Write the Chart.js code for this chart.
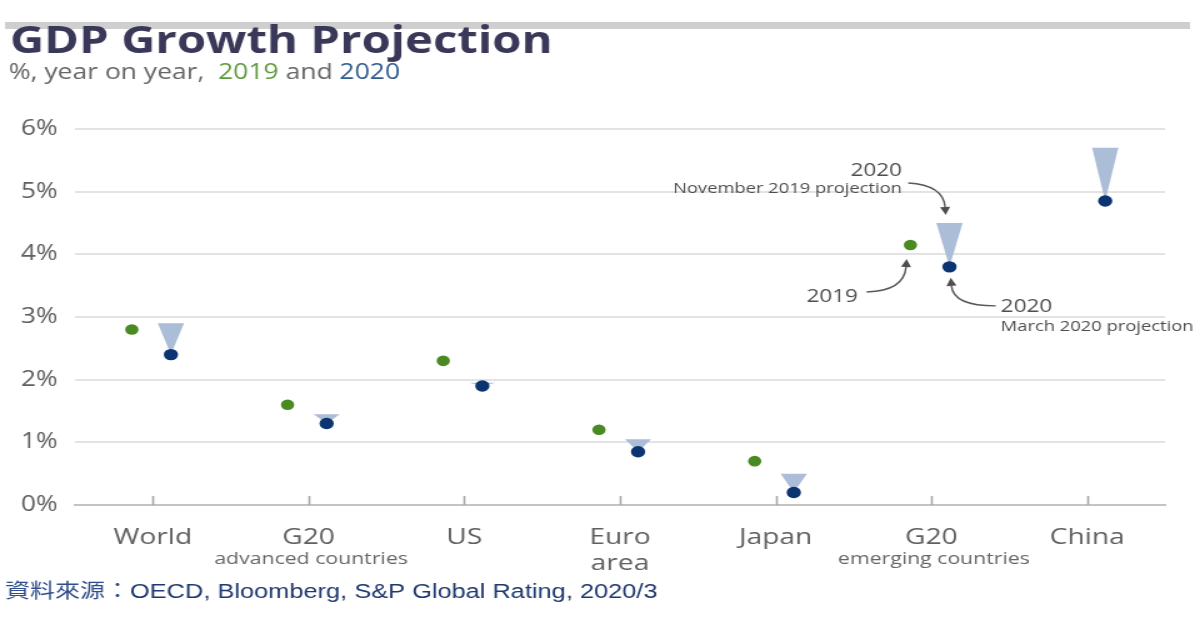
<!DOCTYPE html>
<html><head><meta charset="utf-8">
<script src="https://cdn.jsdelivr.net/npm/chart.js@4"></script>
<style>
html,body{margin:0;padding:0;background:#fff;overflow:hidden}
#c{display:block}
</style></head>
<body>
<canvas id="c" width="960" height="630" style="width:1200px;height:630px"></canvas>
<script>
// ---- data ----
const categories = [['World'], ['G20'], ['US'], ['Euro', 'area'], ['Japan'], ['G20'], ['China']];
const subLabels = ['', 'advanced countries', '', '', '', 'emerging countries', ''];
const growth2019 = [2.8, 1.6, 2.3, 1.2, 0.7, 4.15, 6.1];
const proj2020Mar = [2.4, 1.3, 1.9, 0.85, 0.2, 3.8, 4.85];
const proj2020Nov = [2.9, 1.45, 1.95, 1.05, 0.5, 4.5, 5.7];
const yTicks = [0, 1, 2, 3, 4, 5, 6];

// ---- layout constants ----
const G_OFF = -0.135, B_OFF = 0.116;
const pts = (vals, off) => vals.map((v, i) => ({x: i + off, y: v}));

function drawSegments(ctx, segs, x, y, font, targetW) {
  ctx.save();
  ctx.font = font;
  const w = segs.reduce((s, g) => s + ctx.measureText(g.t).width, 0);
  const k = targetW ? targetW / w : 1;
  ctx.translate(x, y); ctx.scale(k, 1);
  ctx.textAlign = 'left'; ctx.textBaseline = 'alphabetic';
  let cx = 0;
  segs.forEach(g => { ctx.fillStyle = g.c; ctx.fillText(g.t, cx, 0); cx += ctx.measureText(g.t).width; });
  ctx.restore();
}

function arrow(ctx, x0, y0, cx, cy, x1, y1) {
  const ang = Math.atan2(y1 - cy, x1 - cx);
  const L = 8, W = 4;
  const bx = x1 - Math.cos(ang) * L, by = y1 - Math.sin(ang) * L;
  ctx.beginPath(); ctx.moveTo(x0, y0); ctx.quadraticCurveTo(cx, cy, bx, by); ctx.stroke();
  ctx.beginPath();
  ctx.moveTo(x1, y1);
  ctx.lineTo(bx + Math.sin(ang) * W, by - Math.cos(ang) * W);
  ctx.lineTo(bx - Math.sin(ang) * W, by + Math.cos(ang) * W);
  ctx.closePath(); ctx.fill();
}

const markPlugin = {
  id: 'marks',
  beforeDraw(chart) {
    const ctx = chart.ctx;
    ctx.save();
    ctx.fillStyle = '#fff'; ctx.fillRect(0, 0, chart.width, chart.height);
    ctx.fillStyle = '#cfcfcf'; ctx.fillRect(4, 22, 948, 7);
    ctx.restore();
  },
  beforeDatasetsDraw(chart) {
    const {ctx, chartArea, scales: {x, y}} = chart;
    ctx.save();
    // tick marks
    ctx.strokeStyle = '#a8a8a8'; ctx.lineWidth = 1.6;
    categories.forEach((c, i) => {
      const px = Math.round(x.getPixelForValue(i)) + 0.5;
      ctx.beginPath(); ctx.moveTo(px, chartArea.bottom); ctx.lineTo(px, chartArea.bottom - 9); ctx.stroke();
    });
    // revision triangles (Nov 2019 projection -> Mar 2020 projection)
    ctx.fillStyle = '#abbdd7';
    proj2020Nov.forEach((top, i) => {
      const px = x.getPixelForValue(i + B_OFF);
      const yt = y.getPixelForValue(top);
      const yb = y.getPixelForValue(proj2020Mar[i]);
      if (yb - yt < 1) return;
      ctx.beginPath();
      ctx.moveTo(px - 10.5, yt); ctx.lineTo(px + 10.5, yt); ctx.lineTo(px, yb);
      ctx.closePath(); ctx.fill();
    });
    ctx.restore();
  },
  afterDraw(chart) {
    const {ctx, scales: {x, y}} = chart;
    // title + subtitle
    drawSegments(ctx, [{t: 'GDP Growth Projection', c: '#3a3858'}], 8, 53, 'bold 38px "Open Sans"', 434);
    drawSegments(ctx, [
      {t: '%, year on year,  ', c: '#666666'},
      {t: '2019', c: '#5c9a3c'},
      {t: ' and ', c: '#666666'},
      {t: '2020', c: '#2f5b8e'}
    ], 7, 79, '21px "Open Sans"', 313);
    // sub labels of categories
    ctx.save();
    ctx.font = '17px "Open Sans"'; ctx.fillStyle = '#666666';
    ctx.textAlign = 'center'; ctx.textBaseline = 'alphabetic';
    subLabels.forEach((s, i) => { if (s) ctx.fillText(s, x.getPixelForValue(i) + 2, 564); });
    ctx.restore();
    // annotations around G20 emerging countries
    const k = 5;
    const gx = x.getPixelForValue(k + G_OFF), gy = y.getPixelForValue(growth2019[k]);
    const bx = x.getPixelForValue(k + B_OFF), by = y.getPixelForValue(proj2020Mar[k]);
    const ty = y.getPixelForValue(proj2020Nov[k]);
    ctx.save();
    ctx.fillStyle = '#4e4e4e'; ctx.strokeStyle = '#5a5a5a'; ctx.lineWidth = 1.4;
    ctx.textBaseline = 'alphabetic';
    ctx.textAlign = 'right';
    ctx.font = '18px "Open Sans"';
    ctx.fillText('2020', bx - 38, ty - 47);
    ctx.font = '14.7px "Open Sans"';
    ctx.fillText('November 2019 projection', bx - 38, ty - 30);
    ctx.font = '18px "Open Sans"';
    ctx.fillText('2019', gx - 42, gy + 57);
    ctx.textAlign = 'left';
    ctx.fillText('2020', bx + 41, by + 45);
    ctx.font = '14.7px "Open Sans"';
    ctx.fillText('March 2020 projection', bx + 41, by + 64);
    arrow(ctx, bx - 33, ty - 40, bx - 5, ty - 38, bx - 3, ty - 8);
    arrow(ctx, gx - 35, gy + 47, gx - 5, gy + 46, gx - 3, gy + 14);
    arrow(ctx, bx + 37, by + 39, bx + 3, by + 39, bx + 1, by + 11);
    ctx.restore();
    // source
    ctx.save();
    ctx.font = '20px "Noto Sans CJK TC"'; ctx.fillStyle = '#2f4d8a';
    ctx.textBaseline = 'alphabetic'; ctx.textAlign = 'left';
    ctx.fillText('資料來源：', 4, 598);
    ctx.restore();
    drawSegments(ctx, [{t: 'OECD, Bloomberg, S&P Global Rating, 2020/3', c: '#1f3870'}], 104, 598, '20px "Liberation Sans"', 422);
  }
};

new Chart(document.getElementById('c'), {
  type: 'scatter',
  data: {
    datasets: [
      {label: '2019', data: pts(growth2019, G_OFF), backgroundColor: '#4a8a22', borderWidth: 0, pointRadius: 5.3, clip: false},
      {label: '2020 (March 2020 projection)', data: pts(proj2020Mar, B_OFF), backgroundColor: '#0b3470', borderWidth: 0, pointRadius: 5.7, clip: false}
    ]
  },
  options: {
    responsive: false, animation: false, devicePixelRatio: 1,
    layout: {padding: {top: 129, right: 28, bottom: 0, left: 0}},
    plugins: {legend: {display: false}, tooltip: {enabled: false}},
    scales: {
      x: {
        type: 'linear', min: -0.5, max: 6.5,
        afterBuildTicks: s => { s.ticks = categories.map((_, i) => ({value: i})); },
        afterFit: s => { s.height = 125; },
        grid: {display: false, drawTicks: false},
        border: {display: true, color: '#c4c4c4', width: 2},
        ticks: {autoSkip: false, maxRotation: 0, padding: 20, color: '#606060',
          font: {family: '"Open Sans"', size: 22.5, lineHeight: 1.15},
          callback: v => categories[Math.round(v)]}
      },
      y: {
        min: 0, max: 6,
        afterBuildTicks: s => { s.ticks = yTicks.map(v => ({value: v})); },
        afterFit: s => { s.width = 60; },
        grid: {color: c => (c.tick && c.tick.value === 0 ? '#c4c4c4' : '#e3e3e3'), lineWidth: 2, drawTicks: false},
        border: {display: false},
        ticks: {padding: 14, color: '#606060', font: {family: '"Open Sans"', size: 21}, callback: v => v + '%'}
      }
    }
  },
  plugins: [markPlugin]
});
</script>
</body></html>
